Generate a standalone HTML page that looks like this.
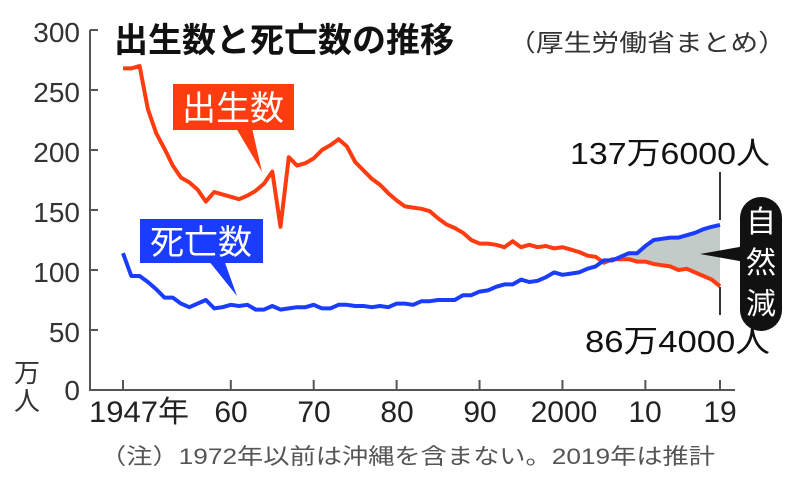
<!DOCTYPE html>
<html><head><meta charset="utf-8"><style>
body{margin:0;background:#fff;width:800px;height:490px;overflow:hidden;font-family:"Liberation Sans","Noto Sans CJK JP",sans-serif}
svg text{font-family:"Liberation Sans","Noto Sans CJK JP",sans-serif}
</style></head><body>
<svg id="s" width="800" height="490" viewBox="0 0 800 490">
<g fill="#333" font-size="28" text-anchor="end">
<text x="80" y="42">300</text><text x="80" y="102">250</text><text x="80" y="162">200</text>
<text x="80" y="222">150</text><text x="80" y="282">100</text><text x="80" y="342">50</text><text x="80" y="400">0</text>
</g>
<text x="14" y="382" font-size="26" fill="#333">万</text>
<text x="14" y="410" font-size="26" fill="#333">人</text>
<g stroke="#555" stroke-width="2" fill="none">
<path d="M90 30V390H735"/>
<path d="M90 30h8M90 90h8M90 150h8M90 210h8M90 270h8M90 330h8"/>
<path id="xt" d=""/>
</g>
<g font-size="30" fill="#222" text-anchor="middle">
<text x="139" y="422" textLength="100" lengthAdjust="spacingAndGlyphs">1947年</text><text x="231" y="422">60</text><text x="314" y="422">70</text>
<text x="397" y="422">80</text><text x="480" y="422">90</text><text x="564" y="422">2000</text>
<text x="645" y="422">10</text><text x="720" y="422">19</text>
</g>
<text x="100" y="464" font-size="22" fill="#555" textLength="615" lengthAdjust="spacingAndGlyphs">（注）1972年以前は沖縄を含まない。2019年は推計</text>
<text x="114" y="52" font-size="34" font-weight="bold" fill="#111">出生数と死亡数の推移</text>
<text x="508" y="51" font-size="24" fill="#333" textLength="278" lengthAdjust="spacingAndGlyphs">（厚生労働省まとめ）</text>
<path id="fill" fill="#c3cbc8" stroke="none"/>
<path id="red" fill="none" stroke="#ff3b10" stroke-width="4" stroke-linejoin="round"/>
<path id="blue" fill="none" stroke="#1a3cff" stroke-width="4" stroke-linejoin="round"/>
<rect x="173" y="84" width="121" height="46" fill="#ff3b10"/>
<path d="M236 128L262 172L252 128Z" fill="#ff3b10"/>
<text x="233" y="120" font-size="34" fill="#fff" text-anchor="middle">出生数</text>
<rect x="140" y="219" width="123" height="44" fill="#1a3cff"/>
<path d="M208 260L237 296L224 260Z" fill="#1a3cff"/>
<text x="201" y="254" font-size="34" fill="#fff" text-anchor="middle">死亡数</text>
<line x1="720" y1="172" x2="720" y2="220" stroke="#333" stroke-width="2"/>
<line x1="720" y1="287" x2="720" y2="315" stroke="#333" stroke-width="2"/>
<path d="M700 254L745 246L745 262Z" fill="#111"/>
<rect x="740" y="197" width="42" height="134" rx="21" fill="#111"/>
<g font-size="30" fill="#fff" text-anchor="middle"><text x="761" y="232">自</text><text x="761" y="273">然</text><text x="761" y="314">減</text></g>
<text x="570" y="164" font-size="31" fill="#111" textLength="200" lengthAdjust="spacingAndGlyphs">137万6000人</text>
<text x="585" y="352" font-size="31" fill="#111" textLength="185" lengthAdjust="spacingAndGlyphs">86万4000人</text>
</svg>
<script>
var b=[268,268,270,234,214,201,187,177,173,167,157,165,163,161,159,162,166,172,182,136,194,187,189,193,200,204,209,203,190,183,176,171,164,158,153,152,151,149,143,138,135,131,125,122,122,121,119,124,119,121,119,120,118,119,117,115,112,111,106,109,109,109,107,107,105,104,103,100,101,98,95,92,86.4];
var d=[114,95,95,90,84,77,77,72,69,72,75,68,69,71,70,71,67,67,70,67,68,69,69,71,68,68,71,71,70,70,69,70,69,72,72,71,74,74,75,75,75,79,79,82,83,86,88,88,92,90,91,94,98,96,97,98,101,103,108,108,111,114,114,120,125,126,127,127,129,131,134,136,137.6];
function X(i){return 123+i*597/72}function Y(v){return 390-1.2*v}
function P(a){return a.map(function(v,i){return(i?'L':'M')+X(i).toFixed(1)+' '+Y(v).toFixed(1)}).join('')}
document.getElementById('red').setAttribute('d',P(b));
document.getElementById('blue').setAttribute('d',P(d));
var s=58,f='M'+X(s)+' '+Y(b[s]);
for(var i=s;i<73;i++)f+='L'+X(i)+' '+Y(d[i]);
for(var i=72;i>=s;i--)f+='L'+X(i)+' '+Y(b[i]);
document.getElementById('fill').setAttribute('d',f+'Z');
var t='';[0,13,23,33,43,53,63,72].forEach(function(i){t+='M'+X(i)+' 390v-10'});
document.getElementById('xt').setAttribute('d',t);
</script>
</body></html>
